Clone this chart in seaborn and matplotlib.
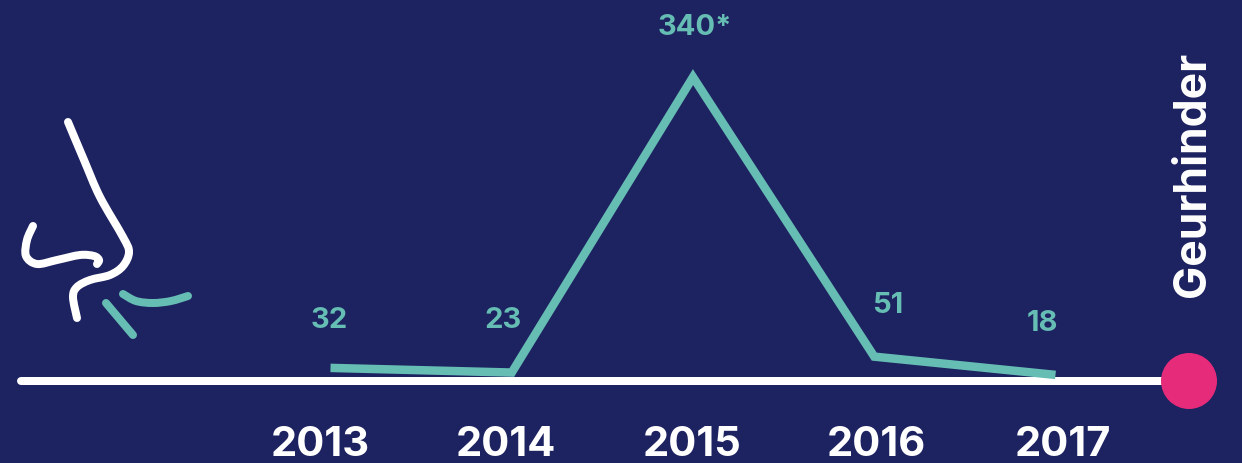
import matplotlib
matplotlib.use("Agg")
import matplotlib.pyplot as plt
from matplotlib.patches import Circle, PathPatch
from matplotlib.path import Path
import numpy as np
import pandas as pd
import seaborn as sns

# Odour complaints per year
years = [2013, 2014, 2015, 2016, 2017]
complaints = [32, 23, 340, 51, 18]
value_labels = ["32", "23", "340*", "51", "18"]
series_name = "Geurhinder"

NAVY = "#1D2260"
TEAL = "#66BDB4"
WHITE = "#FFFFFF"
PINK = "#E72B7B"
FONT = "Inter"

W, H, DPI = 1242, 463, 100
BASE_Y = 381
px = 72 / DPI  # one pixel in points

sns.set_theme(style="white")
plt.rcParams["font.family"] = [FONT, "DejaVu Sans"]

fig = plt.figure(figsize=(W / DPI, H / DPI), dpi=DPI, facecolor=NAVY)

# Decoration layer in pixel coordinates: baseline, end dot, nose icon
deco = fig.add_axes([0, 0, 1, 1], zorder=1)
deco.set_xlim(0, W)
deco.set_ylim(H, 0)
deco.set_axis_off()


def smooth(points):
    """Catmull-Rom spline through the points, as a cubic Bezier path."""
    p = np.asarray(points, float)
    q = np.vstack([p[0], p, p[-1]])
    verts, codes = [p[0]], [Path.MOVETO]
    for i in range(1, len(q) - 2):
        verts += [q[i] + (q[i + 1] - q[i - 1]) / 6,
                  q[i + 1] - (q[i + 2] - q[i]) / 6,
                  q[i + 1]]
        codes += [Path.CURVE4] * 3
    return Path(verts, codes)


def stroke(points, color, width):
    deco.add_patch(PathPatch(smooth(points), fill=False, edgecolor=color,
                             linewidth=width * px, capstyle="round",
                             joinstyle="round"))


nose_bridge = [(68, 122), (84, 160), (100, 197), (123, 237), (129, 252),
               (123, 266), (110, 275), (90, 280), (77, 287), (73, 297), (77, 318)]
nostril = [(33, 226), (27, 240), (26, 256), (37, 264), (57, 260),
           (80, 255), (94, 256), (99, 260), (97, 264)]
scent_arc = [(123, 294), (136, 301), (153, 303), (171, 301), (188, 296)]
scent_dash = [(106, 303), (133, 335)]

stroke(nose_bridge, WHITE, 8)
stroke(nostril, WHITE, 8)
stroke(scent_arc, TEAL, 8)
stroke(scent_dash, TEAL, 8)

deco.plot([21, 1190], [BASE_Y, BASE_Y], color=WHITE, lw=8 * px,
          solid_capstyle="round")
deco.add_patch(Circle((1189, BASE_Y), 28, facecolor=PINK, edgecolor="none", zorder=3))
deco.text(1193, 174, series_name, rotation=90, ha="center", va="center",
          color=WHITE, fontsize=32, fontweight="bold")

# Chart layer: axes bottom edge sits on the baseline
ax = fig.add_axes([0, (H - BASE_Y) / H, 1, BASE_Y / H], zorder=2)
ax.patch.set_alpha(0)
data = pd.DataFrame({"year": years, "complaints": complaints})
sns.lineplot(data=data, x="year", y="complaints", ax=ax, color=TEAL,
             lw=8.5 * px, solid_joinstyle="miter", solid_capstyle="butt",
             errorbar=None)

power = 1.33
ax.set_yscale("function", functions=(lambda v: np.power(np.maximum(v, 0), power),
                                     lambda v: np.power(np.maximum(v, 0), 1 / power)))
ax.set_ylim(0, 403)
ax.set_xlim(2013 - 330.5 / 181.25, 2013 + (W - 330.5) / 181.25)
ax.set_axis_off()

# Label nudges in pixels, kept apart from the values
label_offsets = [(-1, 47), (-9, 52), (2, 50), (13, 51), (-13, 51)]
year_offsets = [-10, -6, -1, 2, 7]

for year, value, text, off, yoff in zip(years, complaints, value_labels,
                                        label_offsets, year_offsets):
    ax.annotate(text, (year, value), xytext=off, textcoords="offset pixels",
                ha="center", va="center", color=TEAL, fontsize=21,
                fontweight="bold", annotation_clip=False)
    ax.annotate(str(year), (year, 0), xytext=(yoff, -64), textcoords="offset pixels",
                ha="center", va="center", color=WHITE, fontsize=30,
                fontweight="bold", annotation_clip=False)

fig.savefig("out.png", dpi=DPI, facecolor=NAVY)
